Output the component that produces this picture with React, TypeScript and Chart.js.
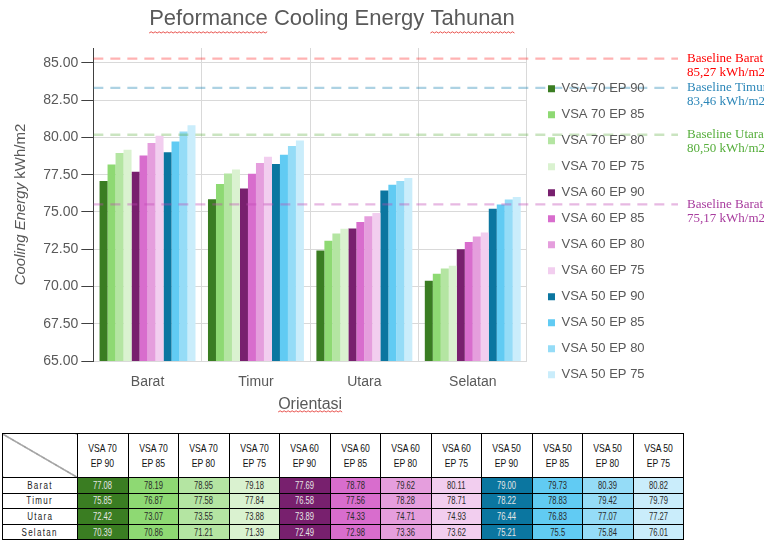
import React, { useEffect, useRef } from "react";
import { Chart, registerables } from "chart.js";

Chart.register(...registerables);

const chartTitle = "Peformance Cooling Energy Tahunan";
const xAxisTitle = "Orientasi";
const yTitleItalic = "Cooling Energy";
const yTitleNormal = "kWh/m2";

const categories = ["Barat", "Timur", "Utara", "Selatan"];

const seriesNames = [
  "VSA 70 EP 90", "VSA 70 EP 85", "VSA 70 EP 80", "VSA 70 EP 75",
  "VSA 60 EP 90", "VSA 60 EP 85", "VSA 60 EP 80", "VSA 60 EP 75",
  "VSA 50 EP 90", "VSA 50 EP 85", "VSA 50 EP 80", "VSA 50 EP 75",
];

const seriesColors = [
  "#3A7D22", "#8ED973", "#B4E5A2", "#DAF2D0",
  "#78206E", "#D86DCD", "#E59EDD", "#F2CEEF",
  "#0B76A0", "#61CBF3", "#95DCF7", "#CAEDFB",
];

// values as printed in the table (one array per orientation)
const valuesBarat = ["77.08", "78.19", "78.95", "79.18", "77.69", "78.78", "79.62", "80.11", "79.00", "79.73", "80.39", "80.82"];
const valuesTimur = ["75.85", "76.87", "77.58", "77.84", "76.58", "77.56", "78.28", "78.71", "78.22", "78.83", "79.42", "79.79"];
const valuesUtara = ["72.42", "73.07", "73.55", "73.88", "73.89", "74.33", "74.71", "74.93", "76.44", "76.83", "77.07", "77.27"];
const valuesSelatan = ["70.39", "70.86", "71.21", "71.39", "72.49", "72.98", "73.36", "73.62", "75.21", "75.5", "75.84", "76.01"];

const rows = [valuesBarat, valuesTimur, valuesUtara, valuesSelatan];

// baseline reference lines (level as drawn in the picture) and their labels
const baselineLevels = [85.29, 83.33, 80.18, 75.51];
const baselineNames = ["Baseline Barat", "Baseline Timur", "Baseline Utara", "Baseline Barat"];
const baselineTexts = ["85,27 kWh/m2", "83,46 kWh/m2", "80,50 kWh/m2", "75,17 kWh/m2"];
const baselineLineColors = ["rgba(255,0,0,0.30)", "rgba(21,127,175,0.35)", "rgba(78,167,46,0.30)", "rgba(192,70,180,0.38)"];
const baselineTextColors = ["#FF0000", "#2B86B8", "#56AE3C", "#A83C9E"];

const yMin = 65;
const yMax = 86;
const yTickValues = [65, 67.5, 70, 72.5, 75, 77.5, 80, 82.5, 85];

const darkColumns = [0, 4, 8];

const SANS = "'Liberation Sans', Arial, sans-serif";
const SERIF = "'Liberation Serif', 'Times New Roman', serif";
const GRAY = "#595959";

function squiggle(ctx: CanvasRenderingContext2D, x0: number, x1: number, y: number) {
  ctx.save();
  ctx.strokeStyle = "#E5403A";
  ctx.lineWidth = 0.9;
  ctx.beginPath();
  let up = true;
  ctx.moveTo(x0, y);
  for (let x = x0 + 2; x <= x1; x += 2) {
    ctx.lineTo(x, up ? y - 1.2 : y);
    up = !up;
  }
  ctx.stroke();
  ctx.restore();
}

function drawBaselines(chart: any, clipLeft: number, clipRight: number) {
  const { ctx, chartArea } = chart;
  const y = chart.scales.y;
  const endX = chart.width - 86;
  ctx.save();
  ctx.beginPath();
  ctx.rect(clipLeft, 0, clipRight - clipLeft, chart.height);
  ctx.clip();
  baselineLevels.forEach((lv, i) => {
    const py = y.getPixelForValue(lv);
    ctx.strokeStyle = baselineLineColors[i];
    ctx.lineWidth = 2.3;
    ctx.setLineDash([10, 7]);
    ctx.beginPath();
    ctx.moveTo(chartArea.left, py);
    ctx.lineTo(endX, py);
    ctx.stroke();
  });
  ctx.restore();
}

const decorPlugin = {
  id: "decor",
  afterLayout(chart: any) {
    const lg = chart.legend;
    if (lg) {
      lg.left += 8;
      lg.right += 8;
    }
  },
  beforeDraw(chart: any) {
    const { ctx, chartArea } = chart;
    const y = chart.scales.y;
    // part of the dashed lines outside the plot, below the legend
    drawBaselines(chart, chartArea.right, chart.width);
    ctx.save();
    ctx.font = `13px ${SERIF}`;
    ctx.textBaseline = "middle";
    ctx.textAlign = "left";
    baselineLevels.forEach((lv, i) => {
      const py = y.getPixelForValue(lv);
      ctx.fillStyle = baselineTextColors[i];
      ctx.fillText(baselineNames[i], chart.width - 77, py);
      ctx.fillText(baselineTexts[i], chart.width - 77, py + 14);
    });
    ctx.restore();
  },
  afterDatasetsDraw(chart: any) {
    const { chartArea } = chart;
    // part of the dashed lines inside the plot, above the bars
    drawBaselines(chart, chartArea.left, chartArea.right);
  },
  afterDraw(chart: any) {
    const { ctx, chartArea } = chart;
    // chart title
    ctx.save();
    ctx.font = `22px ${SANS}`;
    ctx.fillStyle = GRAY;
    ctx.textBaseline = "middle";
    ctx.textAlign = "left";
    const cx = 332;
    const tw = ctx.measureText(chartTitle).width;
    const tx = cx - tw / 2;
    ctx.fillText(chartTitle, tx, 19);
    const w1 = ctx.measureText("Peformance").width;
    squiggle(ctx, tx, tx + w1, 33);
    const lastWord = "Tahunan";
    const pre = ctx.measureText(chartTitle.slice(0, chartTitle.length - lastWord.length)).width;
    squiggle(ctx, tx + pre, tx + tw, 33);
    ctx.restore();

    // y title with mixed styles
    ctx.save();
    const midY = (chartArea.top + chartArea.bottom) / 2;
    ctx.translate(21, midY);
    ctx.rotate(-Math.PI / 2);
    ctx.fillStyle = GRAY;
    ctx.textBaseline = "middle";
    ctx.textAlign = "left";
    ctx.font = `italic 15px ${SANS}`;
    const a = ctx.measureText(yTitleItalic + " ").width;
    ctx.font = `15px ${SANS}`;
    const b = ctx.measureText(yTitleNormal).width;
    const start = -(a + b) / 2;
    ctx.font = `italic 15px ${SANS}`;
    ctx.fillText(yTitleItalic + " ", start, 0);
    ctx.font = `15px ${SANS}`;
    ctx.fillText(yTitleNormal, start + a, 0);
    ctx.restore();

    // squiggle under x title
    ctx.save();
    ctx.font = `16px ${SANS}`;
    const xw = ctx.measureText(xAxisTitle).width;
    const xc = (chartArea.left + chartArea.right) / 2;
    squiggle(ctx, xc - xw / 2, xc + xw / 2, 412);
    ctx.restore();
  },
};

function ChartView() {
  const ref = useRef<HTMLCanvasElement | null>(null);
  useEffect(() => {
    if (!ref.current) return;
    const datasets = seriesNames.map((name, i) => ({
      label: name,
      data: rows.map((r) => parseFloat(r[i])),
      backgroundColor: seriesColors[i],
      borderWidth: 0,
      categoryPercentage: 0.885,
      barPercentage: 1,
    }));
    const chart = new Chart(ref.current, {
      type: "bar",
      data: { labels: categories, datasets },
      options: {
        animation: false,
        responsive: false,
        devicePixelRatio: 1,
        layout: { padding: { top: 48, left: 40.3, right: 117.4, bottom: 7 } },
        plugins: {
          title: { display: false },
          tooltip: { enabled: false },
          legend: {
            position: "right",
            align: "start",
            title: { display: true, text: " ", font: { size: 1 }, padding: { top: 20, bottom: 0 } },
            labels: {
              boxWidth: 7,
              boxHeight: 7,
              padding: 13,
              color: GRAY,
              font: { size: 13, family: SANS },
            },
          },
        },
        scales: {
          x: {
            grid: { color: "#D9D9D9", drawTicks: false, offset: true },
            border: { color: "#D9D9D9" },
            ticks: { color: GRAY, font: { size: 14, family: SANS }, padding: 13 },
            title: {
              display: true,
              text: xAxisTitle,
              color: GRAY,
              font: { size: 16, family: SANS },
              padding: { top: 4, bottom: 4 },
            },
            afterFit: (s: any) => {
              s.height = 57;
            },
          },
          y: {
            min: yMin,
            max: yMax,
            afterBuildTicks: (s: any) => {
              s.ticks = yTickValues.map((v) => ({ value: v }));
            },
            ticks: {
              color: GRAY,
              padding: 3,
              font: { size: 14, family: SANS },
              callback: (v: any) => Number(v).toFixed(2),
            },
            grid: { color: "#D9D9D9", tickColor: "#404040", tickLength: 12 },
            border: { color: "#404040" },
          },
        },
      },
      plugins: [decorPlugin],
    } as any);
    return () => chart.destroy();
  }, []);
  return <canvas ref={ref} width={764} height={425} style={{ display: "block" }} />;
}

function Narrow({ children, scale }: { children: React.ReactNode; scale: number }) {
  return (
    <span style={{ display: "inline-block", transform: `scaleX(${scale})`, transformOrigin: "center" }}>{children}</span>
  );
}

function DataTable() {
  const border = "1px solid #000";
  const cellBase: React.CSSProperties = {
    border,
    padding: 0,
    textAlign: "center",
    verticalAlign: "middle",
    fontFamily: SANS,
    fontSize: 10,
    lineHeight: "13px",
    overflow: "hidden",
    whiteSpace: "nowrap",
  };
  return (
    <table
      style={{
        borderCollapse: "collapse",
        tableLayout: "fixed",
        width: 681,
        position: "absolute",
        left: 2,
        top: 433,
        background: "#fff",
      }}
    >
      <colgroup>
        <col style={{ width: 75 }} />
        {seriesNames.map((n) => (
          <col key={n} style={{ width: 50.5 }} />
        ))}
      </colgroup>
      <tbody>
        <tr style={{ height: 44 }}>
          <td
            style={{
              ...cellBase,
              background:
                "linear-gradient(to top right, transparent calc(50% - 0.6px), #000 50%, transparent calc(50% + 0.6px))",
            }}
          />
          {seriesNames.map((n) => {
            const parts = n.split(" EP ");
            return (
              <td key={n} style={{ ...cellBase, color: "#111", fontSize: 10.5, lineHeight: "15px" }}>
                <Narrow scale={0.82}>
                  {parts[0]}
                  <br />
                  {"EP " + parts[1]}
                </Narrow>
              </td>
            );
          })}
        </tr>
        {categories.map((cat, r) => (
          <tr key={cat} style={{ height: 15.6 }}>
            <td style={{ ...cellBase, color: "#222", letterSpacing: "1.6px" }}>
              <Narrow scale={0.8}>{cat}</Narrow>
            </td>
            {rows[r].map((v, i) => (
              <td
                key={i}
                style={{
                  ...cellBase,
                  background: seriesColors[i],
                  color: darkColumns.includes(i) ? "#E6E6E6" : "#2A2A2A",
                }}
              >
                <Narrow scale={0.76}>{v}</Narrow>
              </td>
            ))}
          </tr>
        ))}
      </tbody>
    </table>
  );
}

export default function App() {
  return (
    <div style={{ position: "absolute", left: 0, top: 0, width: 764, height: 541, background: "#fff", overflow: "hidden" }}>
      <ChartView />
      <DataTable />
    </div>
  );
}
